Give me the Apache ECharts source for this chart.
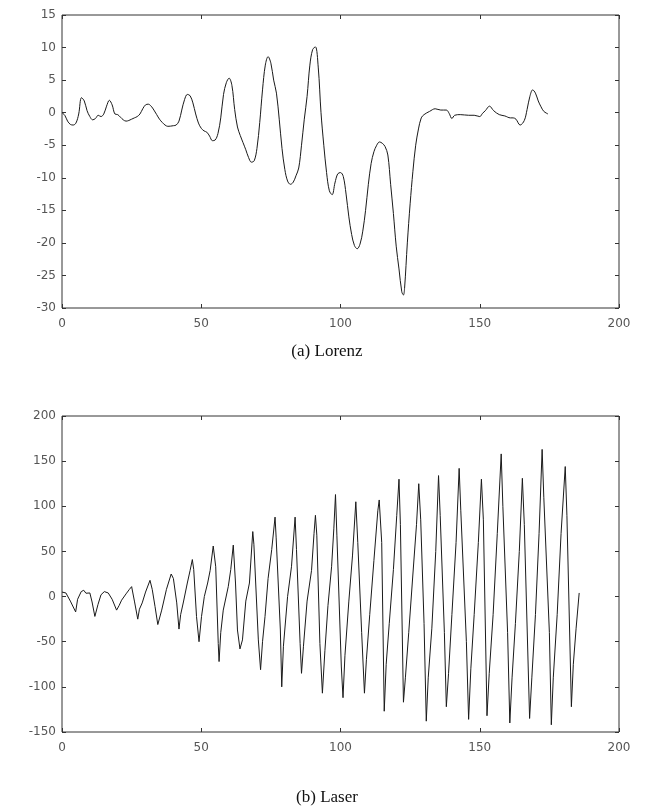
<!DOCTYPE html>
<html>
<head>
<meta charset="utf-8">
<script src="https://cdn.jsdelivr.net/npm/echarts@6/dist/echarts.min.js"></script>
<style>
  html, body { margin: 0; padding: 0; background: #fff; }
  #chart { width: 654px; height: 809px; }
</style>
</head>
<body>
<div id="chart"></div>
<script>
// Lorenz time series: [time step, x value]
const lorenzSeries = [
  [0,0],[1,-0.4],[2,-1.3],[3,-1.8],[4,-1.9],[5,-1.6],[6,-0.2],[7,2.3],[8,1.8],[9,0.3],
  [10,-0.6],[11,-1.1],[12,-0.9],[13,-0.4],[14,-0.6],[15,-0.2],[16,1.0],[17,1.9],[18,1.2],[19,-0.2],
  [20,-0.3],[21,-0.7],[22,-1.1],[23,-1.3],[24,-1.2],[25,-1.0],[26,-0.8],[27,-0.6],[28,-0.2],[29,0.6],
  [30,1.2],[31,1.3],[32,1.0],[33,0.4],[34,-0.3],[35,-1.0],[36,-1.5],[37,-1.9],[38,-2.1],[40,-2.0],
  [41,-1.9],[42,-1.3],[43,0.4],[44,2.0],[45,2.8],[46,2.6],[47,1.5],[48,-0.2],[49,-1.6],[50,-2.4],
  [51,-2.8],[52,-3.0],[53,-3.6],[54,-4.3],[55,-4.2],[56,-3.2],[57,-0.8],[58,2.8],[59,4.6],[60,5.3],
  [61,4.2],[62,0.5],[63,-2.2],[64,-3.5],[65,-4.6],[66,-5.7],[67,-6.9],[68,-7.6],[69,-7.4],[70,-5.5],
  [71,-1.5],[72,3.5],[73,7.3],[74,8.6],[75,7.6],[76,5.0],[77,3.0],[78,-1.0],[79,-5.5],[80,-8.7],
  [81,-10.5],[82,-11.0],[83,-10.7],[84,-9.7],[85,-8.5],[86,-5.0],[87,-1.0],[88,2.5],[89,7.3],[90,9.7],
  [91,10.1],[92,7.0],[93,0.0],[94,-5.0],[95,-9.2],[96,-12.0],[97,-12.6],[98,-10.8],[99,-9.4],[100,-9.2],
  [101,-9.8],[102,-12.5],[103,-16.0],[104,-18.7],[105,-20.4],[106,-20.9],[107,-20.2],[108,-18.2],[109,-15.0],[110,-11.0],
  [111,-7.8],[112,-6.0],[113,-5.0],[114,-4.5],[115,-4.7],[116,-5.2],[117,-6.5],[118,-11.0],[119,-15.5],[120,-20.5],
  [121,-24.0],[122,-27.5],[122.6,-28],[123,-27.0],[124,-20.0],[125,-14.0],[126,-9.0],[127,-5.0],[128,-2.5],[129,-0.8],
  [130,-0.3],[132,0.2],[134,0.6],[136,0.4],[138,0.4],[139,-0.1],[140,-0.9],[141,-0.4],[143,-0.3],[146,-0.4],
  [148,-0.4],[150,-0.6],[151,-0.1],[152,0.3],[153.5,1.0],[155,0.3],[157,-0.3],[159,-0.5],[161,-0.8],[162,-0.8],
  [163,-1.0],[164.5,-1.9],[166,-1.2],[167,0.5],[168,2.5],[169,3.5],[170,3.0],[171,1.8],[172,0.9],[173,0.2],
  [174.5,-0.2]
];

// Laser intensity series: [time step, intensity]
const laserSeries = [
  [0,5],[1.4,4],[3,-5],[4.9,-17],[5.6,-3],[6.9,5.5],[7.8,7],[8.6,3.7],[10,4],[10.8,-6],
  [11.8,-22],[12.9,-9],[14,2],[15.2,5.5],[16.6,4],[18,-3],[19.6,-15],[20.5,-10],[21.4,-4],[23,3],
  [24.2,8],[25,11],[26,-5],[27.2,-25],[27.8,-14],[28.8,-7],[30,5],[31.6,18],[32.4,8],[33.4,-11],
  [34.4,-31],[35.8,-15],[37.5,8],[39.2,25],[40,20],[41.2,-7],[42,-36],[42.6,-20],[43.6,-6],[45,15],
  [46,29],[46.8,41],[47.3,30],[48.3,-22],[49.2,-50],[50.1,-22],[51.1,0],[52.3,15],[53.2,29],[54.3,56],
  [55.2,33],[56.1,-52],[56.4,-72],[57.0,-40],[57.9,-15],[59.7,11],[60.6,30],[61.5,57],[62.3,15],[63,-37],
  [63.9,-58],[64.8,-48],[66,-5],[67.3,15],[68.5,72],[68.9,58],[70.5,-48],[71.3,-81],[72,-50],[72.9,-22],
  [74,20],[75.3,52],[76.5,88],[76.9,65],[78.4,-37],[78.9,-100],[79.5,-55],[81,0],[82.4,33],[83.7,88],
  [84.2,52],[85.5,-52],[86,-85],[86.7,-55],[88,-5],[89.6,29],[90.5,70],[91,90],[91.5,68],[92.6,-52],
  [93.5,-107],[94.4,-60],[95.5,-10],[96.8,33],[97.6,75],[98.2,113],[98.7,68],[100.3,-78],[100.9,-112],[101.6,-65],
  [103,-5],[104.3,45],[105.5,105],[106.2,60],[107.6,-40],[108.6,-107],[109.3,-70],[110.5,-20],[112,40],[113.4,95],
  [113.9,107],[114.8,60],[115.7,-127],[116.4,-75],[117.5,-30],[119,30],[120.2,90],[121,130],[121.5,80],[122.6,-117],
  [123.3,-90],[124.5,-40],[126,25],[127.3,80],[128.1,125],[128.8,85],[130,-30],[130.8,-138],[131.5,-90],[132.8,-35],
  [134.2,50],[135.2,134],[135.8,90],[137.3,-40],[138,-122],[138.8,-85],[140,-20],[141.5,60],[142.6,142],[143.2,95],
  [145.2,-50],[146,-136],[146.8,-80],[148,-20],[149.5,60],[150.6,130],[151.3,85],[152.6,-132],[153.4,-85],[154.8,-20],
  [156.3,70],[157.7,158],[158.3,100],[160,-40],[160.8,-140],[161.6,-90],[162.8,-30],[164.2,50],[165.3,131],[166,80],
  [167.9,-135],[168.7,-90],[170,-20],[171.3,70],[172.4,163],[173,110],[175,-40],[175.7,-142],[176.4,-90],[177.8,-20],
  [179.2,70],[180.7,144],[181.3,90],[182.9,-122],[183.6,-75],[184.6,-35],[185.7,4]
];

// Axis ranges and captions
const xRange = { min: 0, max: 200, step: 50 };
const lorenzY = { min: -30, max: 15, step: 5 };
const laserY = { min: -150, max: 200, step: 50 };
const captions = ['(a) Lorenz', '(b) Laser'];

const labelStyle = { color: '#555', fontFamily: 'DejaVu Sans, Liberation Sans, sans-serif', fontSize: 12 };
const lineColor = '#1a1a1a';
const tickStyle = { show: true, inside: true, length: 4, lineStyle: { color: '#333' } };

function xAxes(gridIndex) {
  return [
    {
      type: 'value', gridIndex, position: 'bottom',
      min: xRange.min, max: xRange.max, interval: xRange.step,
      axisLine: { show: false, onZero: false },
      axisTick: tickStyle,
      axisLabel: Object.assign({ margin: 10 }, labelStyle),
      splitLine: { show: false }
    },
    {
      type: 'value', gridIndex, position: 'top',
      min: xRange.min, max: xRange.max, interval: xRange.step,
      axisLine: { show: false, onZero: false },
      axisTick: tickStyle,
      axisLabel: { show: false },
      splitLine: { show: false }
    }
  ];
}

function yAxes(gridIndex, r) {
  return [
    {
      type: 'value', gridIndex, position: 'left',
      min: r.min, max: r.max, interval: r.step,
      axisLine: { show: false, onZero: false },
      axisTick: tickStyle,
      axisLabel: Object.assign({ margin: 6 }, labelStyle),
      splitLine: { show: false }
    },
    {
      type: 'value', gridIndex, position: 'right',
      min: r.min, max: r.max, interval: r.step,
      axisLine: { show: false, onZero: false },
      axisTick: tickStyle,
      axisLabel: { show: false },
      splitLine: { show: false }
    }
  ];
}

const chart = echarts.init(document.getElementById('chart'), null, { renderer: 'canvas' });

chart.setOption({
  animation: false,
  backgroundColor: '#fff',
  grid: [
    { left: 62, top: 15, width: 557, height: 293, show: true, borderColor: '#333', borderWidth: 1 },
    { left: 62, top: 416, width: 557, height: 316, show: true, borderColor: '#333', borderWidth: 1 }
  ],
  xAxis: [...xAxes(0), ...xAxes(1)],
  yAxis: [...yAxes(0, lorenzY), ...yAxes(1, laserY)],
  title: [
    {
      text: captions[0], left: 'center', top: 338,
      textStyle: { fontFamily: 'Liberation Serif, Times New Roman, serif', fontWeight: 'normal', fontSize: 17, color: '#111' }
    },
    {
      text: captions[1], left: 'center', top: 784,
      textStyle: { fontFamily: 'Liberation Serif, Times New Roman, serif', fontWeight: 'normal', fontSize: 17, color: '#111' }
    }
  ],
  series: [
    {
      type: 'line', xAxisIndex: 0, yAxisIndex: 0,
      data: lorenzSeries, showSymbol: false, smooth: 0.35,
      lineStyle: { color: lineColor, width: 1 }
    },
    {
      type: 'line', xAxisIndex: 2, yAxisIndex: 2,
      data: laserSeries, showSymbol: false, smooth: false,
      lineStyle: { color: lineColor, width: 1 }
    }
  ]
});
</script>
</body>
</html>
